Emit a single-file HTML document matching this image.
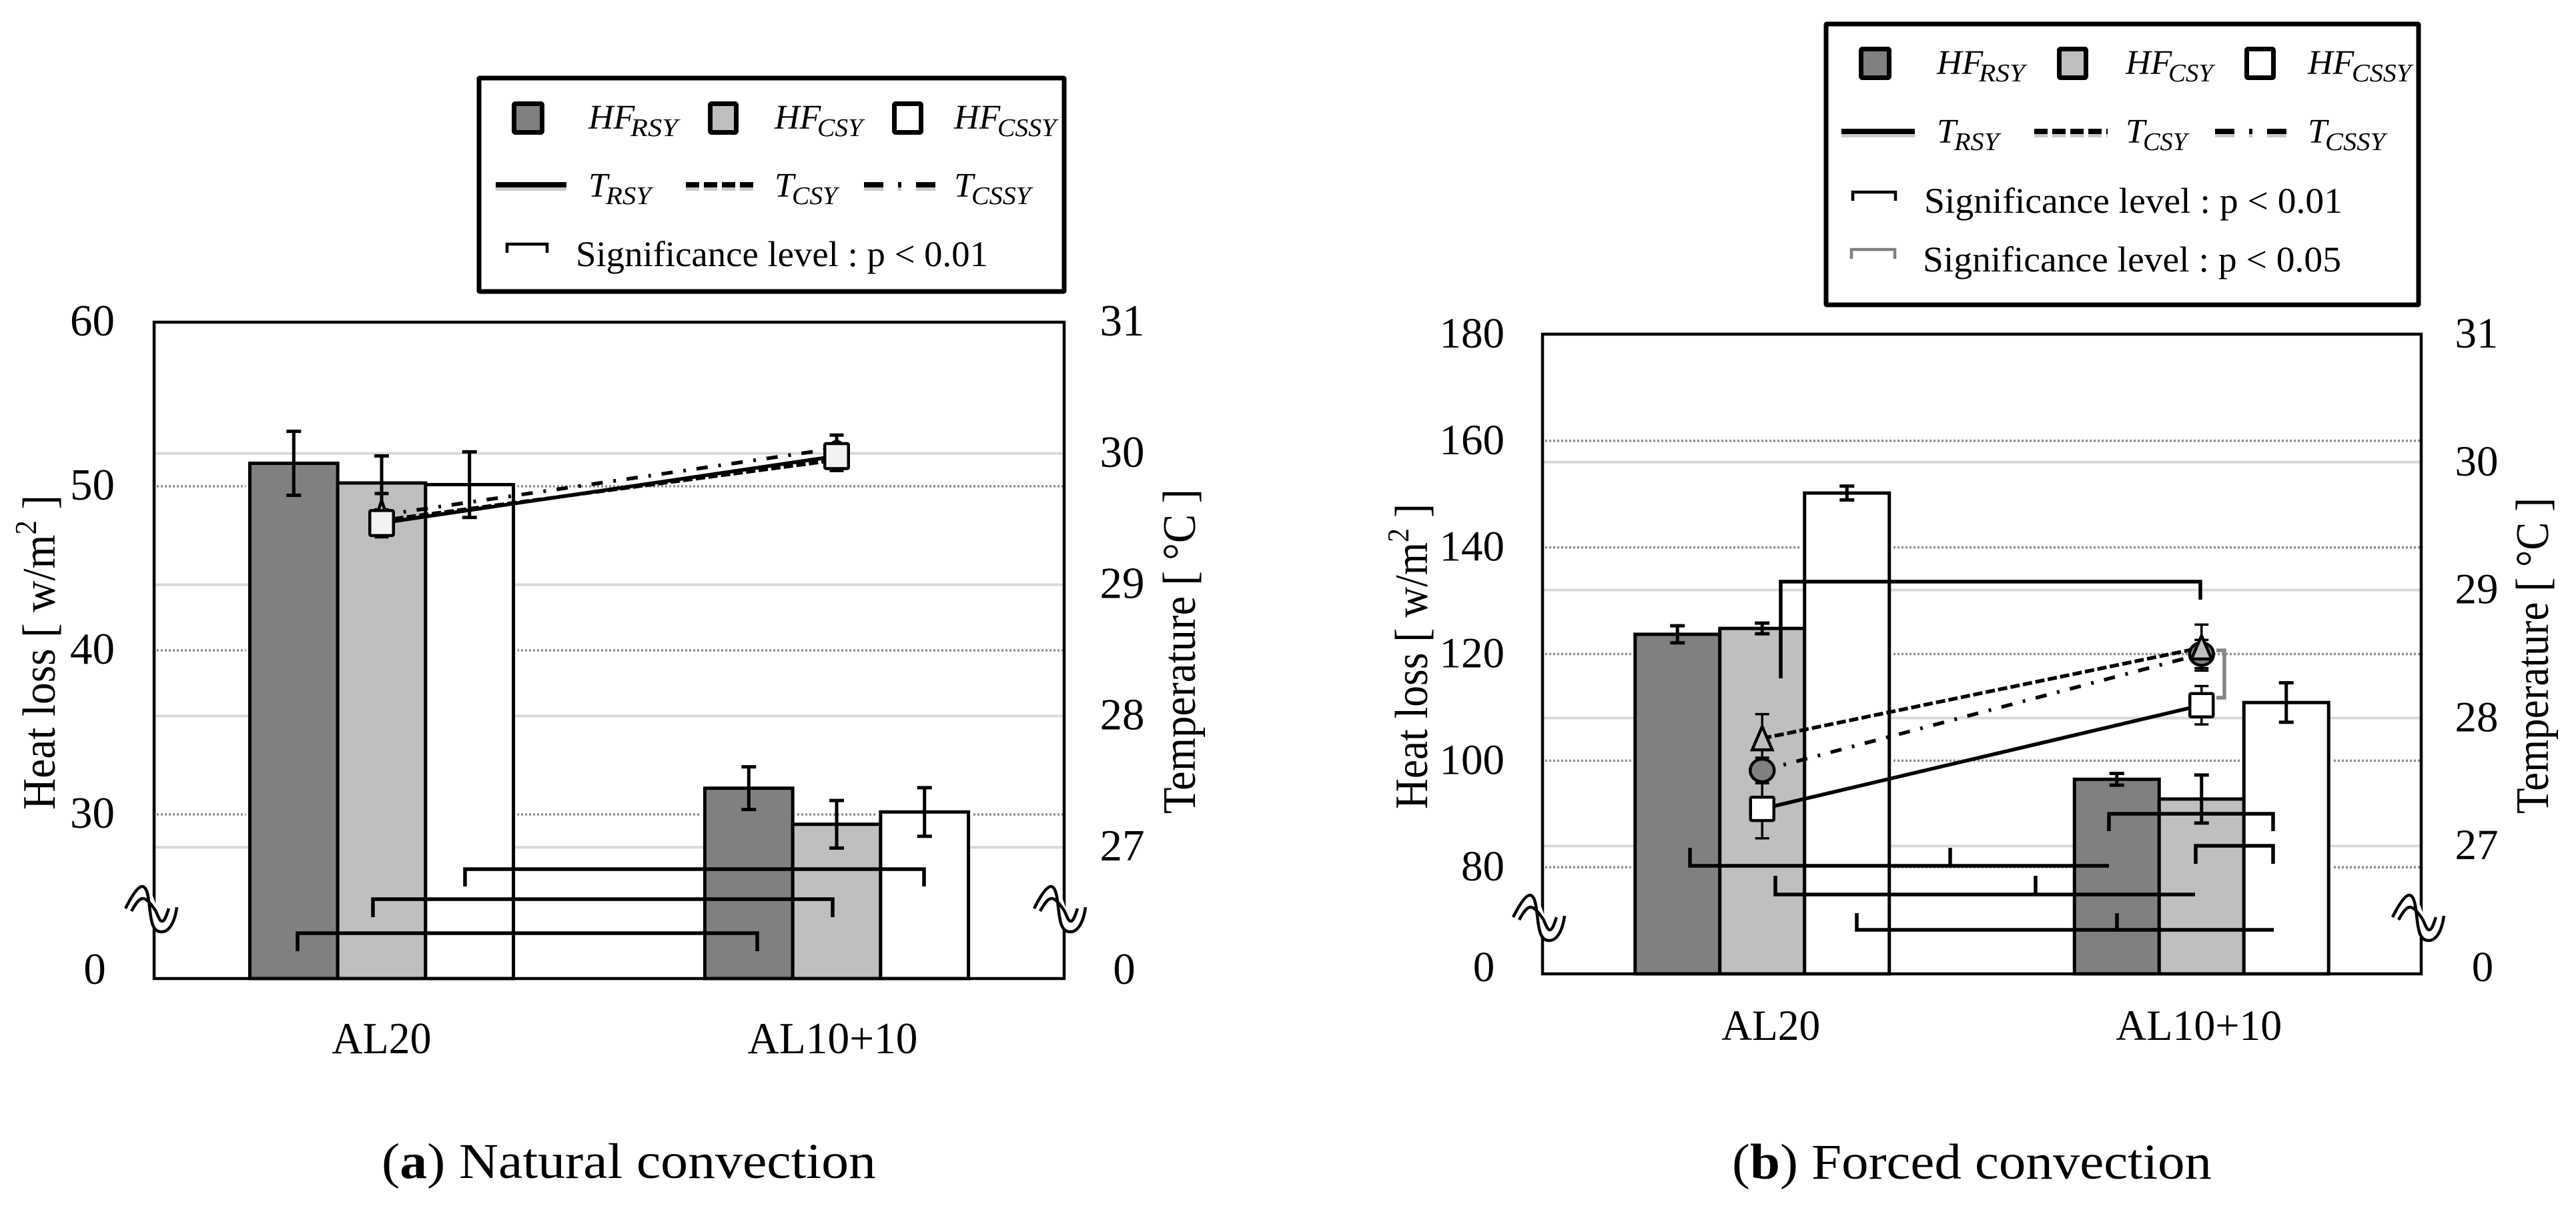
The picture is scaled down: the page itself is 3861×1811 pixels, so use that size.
<!DOCTYPE html>
<html lang="en">
<head>
<meta charset="utf-8">
<title>Heat loss and temperature: natural and forced convection</title>
<style>
html,body{margin:0;padding:0;background:#fff;}
svg{display:block;}
text{font-family:"Liberation Serif",serif;fill:#000;}
.ylab{font-size:70px;}
.cap{font-size:75px;}
.hf{font-size:52px;font-style:italic;}
.sub{font-size:38px;font-style:italic;}
.sig{font-size:54px;}
.br{fill:none;stroke:#000;stroke-width:5.5;stroke-linejoin:miter;}
.wave{fill:none;stroke:#000;stroke-width:4.5;}
.wave-bg{fill:none;stroke:#fff;stroke-width:15;}
</style>
</head>
<body>
<svg xmlns="http://www.w3.org/2000/svg" width="3861" height="1811" viewBox="0 0 3861 1811">
<rect x="0" y="0" width="3861" height="1811" fill="#fff"/>

<!-- Panel (a) -->
<g id="chart-a"></g>
<g>
<path class="br" d="M697 1329V1303H1385V1329"/>
<path class="br" d="M559 1375V1348H1248V1375"/>
<path class="br" d="M446 1426V1399H1135V1426"/>
</g>
<g transform="translate(230 1362)">
<path class="wave-bg" d="M-38 2C-31 -10 -23 -24 -16 -24C-9 -24 -5 -8 -1 4C2 15 5 27 12 27C21 27 26 14 29 -1"/>
<path class="wave" d="M-42 0C-34 -16 -24 -33 -17 -33C-8 -33 -7 -10 -5 5C-3 22 0 35 12 35C24 35 32 20 35 -2"/>
<path class="wave" d="M-33 4C-28 -5 -22 -15 -16 -15C-10 -15 -3 -6 3 3C7 11 9 19 13 19C17 19 20 9 23 0"/>
</g>
<g transform="translate(1592 1362)">
<path class="wave-bg" d="M-38 2C-31 -10 -23 -24 -16 -24C-9 -24 -5 -8 -1 4C2 15 5 27 12 27C21 27 26 14 29 -1"/>
<path class="wave" d="M-42 0C-34 -16 -24 -33 -17 -33C-8 -33 -7 -10 -5 5C-3 22 0 35 12 35C24 35 32 20 35 -2"/>
<path class="wave" d="M-33 4C-28 -5 -22 -15 -16 -15C-10 -15 -3 -6 3 3C7 11 9 19 13 19C17 19 20 9 23 0"/>
</g>
<text class="ylab" transform="translate(82 1214) rotate(-90)" textLength="472" lengthAdjust="spacingAndGlyphs">Heat loss [ w/m<tspan font-size="46" dy="-28">2</tspan><tspan dy="28"> ]</tspan></text>
<text class="ylab" transform="translate(1791 1220) rotate(-90)" textLength="487" lengthAdjust="spacingAndGlyphs">Temperature [ °C ]</text>
<text class="cap" x="572" y="1766" textLength="741" lengthAdjust="spacingAndGlyphs">(<tspan font-weight="bold">a</tspan>) Natural convection</text>

<g>
<rect x="718" y="117" width="877" height="320" fill="#fff" stroke="#000" stroke-width="7" rx="1"/>
<rect x="770.5" y="155.5" width="42" height="43" rx="2" fill="#808080" stroke="#000" stroke-width="7"/>
<text class="hf" x="882" y="193">HF</text><text class="sub" x="945" y="204" textLength="71" lengthAdjust="spacingAndGlyphs">RSY</text>
<rect x="1064.5" y="155.5" width="39" height="43" rx="2" fill="#BFBFBF" stroke="#000" stroke-width="7"/>
<text class="hf" x="1161" y="193">HF</text><text class="sub" x="1225" y="204" textLength="68" lengthAdjust="spacingAndGlyphs">CSY</text>
<rect x="1340.5" y="155.5" width="40" height="43" rx="2" fill="#fff" stroke="#000" stroke-width="7"/>
<text class="hf" x="1430" y="193">HF</text><text class="sub" x="1495" y="204" textLength="88" lengthAdjust="spacingAndGlyphs">CSSY</text>

<line x1="743" y1="283" x2="849" y2="283" stroke="#999" stroke-width="6" opacity=".5"/>
<line x1="1028" y1="283" x2="1136" y2="283" stroke="#999" stroke-width="6" opacity=".5" stroke-dasharray="20 7"/>
<line x1="1295" y1="283" x2="1408" y2="283" stroke="#999" stroke-width="6" opacity=".5" stroke-dasharray="29 22 5 22 29"/>
<line x1="743" y1="277" x2="849" y2="277" stroke="#000" stroke-width="8"/>
<text class="hf" x="882" y="295">T</text><text class="sub" x="908" y="306" textLength="68" lengthAdjust="spacingAndGlyphs">RSY</text>
<line x1="1028" y1="277" x2="1136" y2="277" stroke="#000" stroke-width="8" stroke-dasharray="20 7"/>
<text class="hf" x="1161" y="295">T</text><text class="sub" x="1187" y="306" textLength="68" lengthAdjust="spacingAndGlyphs">CSY</text>
<line x1="1295" y1="277" x2="1408" y2="277" stroke="#000" stroke-width="8" stroke-dasharray="29 22 5 22 29"/>
<text class="hf" x="1430" y="295">T</text><text class="sub" x="1456" y="306" textLength="89" lengthAdjust="spacingAndGlyphs">CSSY</text>

<path d="M760 379V366H820V379" fill="none" stroke="#000" stroke-width="4.5"/>
<text class="sig" x="863" y="399" textLength="618" lengthAdjust="spacingAndGlyphs">Significance level : p &lt; 0.01</text>
</g>

<!-- Panel (b) -->
<g id="chart-b"></g>
<g>
<path class="br" d="M2669 1017V872H3298V899"/>
<path class="br" d="M3161 1246V1220H3407V1246"/>
<path class="br" d="M3291 1295V1268H3407V1295"/>
<path class="br" d="M2533 1271V1298H3161M2923 1271V1298"/>
<path class="br" d="M2661 1313V1341H3290M3051 1313V1341"/>
<path class="br" d="M2783 1369V1394H3408M3173 1369V1394"/>
<path d="M3322 975H3334V1046H3322" fill="none" stroke="#858585" stroke-width="5.5"/>
</g>
<g transform="translate(2310 1375)">
<path class="wave-bg" d="M-38 2C-31 -10 -23 -24 -16 -24C-9 -24 -5 -8 -1 4C2 15 5 27 12 27C21 27 26 14 29 -1"/>
<path class="wave" d="M-42 0C-34 -16 -24 -33 -17 -33C-8 -33 -7 -10 -5 5C-3 22 0 35 12 35C24 35 32 20 35 -2"/>
<path class="wave" d="M-33 4C-28 -5 -22 -15 -16 -15C-10 -15 -3 -6 3 3C7 11 9 19 13 19C17 19 20 9 23 0"/>
</g>
<g transform="translate(3628 1375)">
<path class="wave-bg" d="M-38 2C-31 -10 -23 -24 -16 -24C-9 -24 -5 -8 -1 4C2 15 5 27 12 27C21 27 26 14 29 -1"/>
<path class="wave" d="M-42 0C-34 -16 -24 -33 -17 -33C-8 -33 -7 -10 -5 5C-3 22 0 35 12 35C24 35 32 20 35 -2"/>
<path class="wave" d="M-33 4C-28 -5 -22 -15 -16 -15C-10 -15 -3 -6 3 3C7 11 9 19 13 19C17 19 20 9 23 0"/>
</g>
<text class="ylab" transform="translate(2139 1213) rotate(-90)" textLength="458" lengthAdjust="spacingAndGlyphs">Heat loss [ w/m<tspan font-size="46" dy="-28">2</tspan><tspan dy="28"> ]</tspan></text>
<text class="ylab" transform="translate(3819 1220) rotate(-90)" textLength="474" lengthAdjust="spacingAndGlyphs">Temperature [ °C ]</text>
<text class="cap" x="2596" y="1767" textLength="719" lengthAdjust="spacingAndGlyphs">(<tspan font-weight="bold">b</tspan>) Forced convection</text>

<g>
<rect x="2737" y="36" width="888" height="421" fill="#fff" stroke="#000" stroke-width="7" rx="1"/>
<rect x="2789.5" y="73.5" width="42" height="43" rx="2" fill="#808080" stroke="#000" stroke-width="7"/>
<text class="hf" x="2903" y="111">HF</text><text class="sub" x="2966" y="122" textLength="69" lengthAdjust="spacingAndGlyphs">RSY</text>
<rect x="3086.5" y="73.5" width="40" height="43" rx="2" fill="#BFBFBF" stroke="#000" stroke-width="7"/>
<text class="hf" x="3186" y="111">HF</text><text class="sub" x="3250" y="122" textLength="67" lengthAdjust="spacingAndGlyphs">CSY</text>
<rect x="3367.5" y="73.5" width="40" height="43" rx="2" fill="#fff" stroke="#000" stroke-width="7"/>
<text class="hf" x="3459" y="111">HF</text><text class="sub" x="3525" y="122" textLength="89" lengthAdjust="spacingAndGlyphs">CSSY</text>

<line x1="2760" y1="203" x2="2870" y2="203" stroke="#999" stroke-width="6" opacity=".5"/>
<line x1="3049" y1="203" x2="3159" y2="203" stroke="#999" stroke-width="6" opacity=".5" stroke-dasharray="20 7"/>
<line x1="3320" y1="203" x2="3437" y2="203" stroke="#999" stroke-width="6" opacity=".5" stroke-dasharray="29 22 5 22 29"/>
<line x1="2760" y1="197" x2="2870" y2="197" stroke="#000" stroke-width="8"/>
<text class="hf" x="2903" y="214">T</text><text class="sub" x="2929" y="225" textLength="67" lengthAdjust="spacingAndGlyphs">RSY</text>
<line x1="3049" y1="197" x2="3159" y2="197" stroke="#000" stroke-width="8" stroke-dasharray="20 7"/>
<text class="hf" x="3186" y="214">T</text><text class="sub" x="3212" y="225" textLength="66" lengthAdjust="spacingAndGlyphs">CSY</text>
<line x1="3320" y1="197" x2="3437" y2="197" stroke="#000" stroke-width="8" stroke-dasharray="29 22 5 22 29"/>
<text class="hf" x="3459" y="214">T</text><text class="sub" x="3485" y="225" textLength="90" lengthAdjust="spacingAndGlyphs">CSSY</text>

<path d="M2777 301V288H2841V301" fill="none" stroke="#000" stroke-width="4.5"/>
<text class="sig" x="2884" y="319" textLength="627" lengthAdjust="spacingAndGlyphs">Significance level : p &lt; 0.01</text>
<path d="M2775 388V374H2840V388" fill="none" stroke="#808080" stroke-width="4.5"/>
<text class="sig" x="2882" y="407" textLength="627" lengthAdjust="spacingAndGlyphs">Significance level : p &lt; 0.05</text>
</g>
</svg>

<script>
// Shared categories and series labels
const categories = ['AL20', 'AL10+10'];
const barSeriesNames = ['hf-rsy', 'hf-csy', 'hf-cssy'];
const lineSeriesNames = ['t-rsy', 't-csy', 't-cssy'];
const breakLabel = '0';

// Panel (a) natural convection: heat loss
const naturalHfRsy = [51.4, 31.6];
const naturalHfCsy = [50.2, 29.4];
const naturalHfCssy = [50.1, 30.15];
const naturalHfRsyErr = [1.95, 1.3];
const naturalHfCsyErr = [1.65, 1.45];
const naturalHfCssyErr = [2.0, 1.48];
// Panel (a) temperature
const naturalTRsy = [29.47, 29.98];
const naturalTCsy = [29.49, 29.95];
const naturalTCssy = [29.53, 30.04];
const naturalTRsyErr = [0.08, 0.08];
const naturalTCsyErr = [0.08, 0.08];
const naturalTCssyErr = [0.165, 0.1];
// Panel (a) axes
const naturalLeftTicks = [60, 50, 40, 30];
const naturalRightTicks = [31, 30, 29, 28, 27];

// Panel (b) forced convection: heat loss
const forcedHfRsy = [123.7, 96.5];
const forcedHfCsy = [124.8, 92.8];
const forcedHfCssy = [150.2, 110.9];
const forcedHfRsyErr = [1.6, 1.1];
const forcedHfCsyErr = [1.0, 4.5];
const forcedHfCssyErr = [1.3, 3.7];
// Panel (b) temperature
const forcedTRsy = [27.29, 28.1];
const forcedTCsy = [27.84, 28.55];
const forcedTCssy = [27.59, 28.5];
const forcedTRsyErr = [0.23, 0.15];
const forcedTCsyErr = [0.19, 0.18];
const forcedTCssyErr = [0.1, 0.11];
// Panel (b) axes
const forcedLeftTicks = [180, 160, 140, 120, 100, 80];
const forcedRightTicks = [31, 30, 29, 28, 27];

const NS = 'http://www.w3.org/2000/svg';
const barFills = ['#808080', '#BFBFBF', '#FFFFFF'];
const dashes = ['', '14 5', '17 16 4 16'];

function mk(parent, tag, attrs, txt) {
  const e = document.createElementNS(NS, tag);
  for (const k in attrs) e.setAttribute(k, attrs[k]);
  if (txt !== undefined) e.textContent = txt;
  parent.appendChild(e);
  return e;
}

function drawChart(root, cfg, bars, barErrs, temps, tempErrs, leftTicks, rightTicks) {
  const yL = v => cfg.bottom - (v - cfg.leftMin) * (cfg.bottom - cfg.top) / (cfg.leftMax - cfg.leftMin);
  const yR = v => cfg.bottom - (v - cfg.rightMin) * (cfg.bottom - cfg.top) / (cfg.rightMax - cfg.rightMin);
  const xCat = i => cfg.left + (i + 0.5) * (cfg.right - cfg.left) / categories.length;
  const xBar = (i, k) => xCat(i) + (k - 1.5) * cfg.barW;

  // dotted gridlines for left axis
  leftTicks.slice(1).forEach(function (t) {
    const g = mk(root, 'line', {x1: cfg.left + 4, x2: cfg.right, y1: yL(t), y2: yL(t), stroke: '#8c8c8c', 'stroke-width': 3.5, 'stroke-dasharray': '3 3'});
    
    
  });
  // white halo around the bars, interrupting the dotted lines
  bars.forEach(function (vals, k) {
    vals.forEach(function (v, i) {
      mk(root, 'rect', {x: xBar(i, k) - 6, y: yL(v), width: cfg.barW + 12, height: cfg.bottom - yL(v), fill: '#fff'});
    });
  });
  // light gridlines for right axis
  rightTicks.slice(1).forEach(function (t) {
    const g = mk(root, 'line', {x1: cfg.left, x2: cfg.right, y1: yR(t), y2: yR(t), stroke: '#d9d9d9', 'stroke-width': 4});
    
    
  });
  // bars
  bars.forEach(function (vals, k) {
    vals.forEach(function (v, i) {
      const b = mk(root, 'rect', {x: xBar(i, k), y: yL(v), width: cfg.barW, height: cfg.bottom - yL(v), fill: barFills[k], stroke: '#000', 'stroke-width': 5});
      
      
    });
  });
  // frame
  const fr = mk(root, 'rect', {x: cfg.left, y: cfg.top, width: cfg.right - cfg.left, height: cfg.bottom - cfg.top, fill: 'none', stroke: '#000', 'stroke-width': 4.5});
  
  
  // bar error bars
  bars.forEach(function (vals, k) {
    vals.forEach(function (v, i) {
      const cx = xBar(i, k) + cfg.barW / 2, hi = yL(v + barErrs[k][i]), lo = yL(v - barErrs[k][i]);
      const e = mk(root, 'path', {d: 'M' + (cx - 11) + ' ' + hi + 'H' + (cx + 11) + 'M' + cx + ' ' + hi + 'V' + lo + 'M' + (cx - 11) + ' ' + lo + 'H' + (cx + 11), fill: 'none', stroke: '#000', 'stroke-width': 5});
      
      
    });
  });
  // temperature lines
  temps.forEach(function (vals, s) {
    const l = mk(root, 'line', {x1: xCat(0), y1: yR(vals[0]), x2: xCat(1), y2: yR(vals[1]), stroke: '#000', 'stroke-width': 5.5, 'stroke-dasharray': dashes[s]});
    
    
  });
  // temperature error bars
  temps.forEach(function (vals, s) {
    vals.forEach(function (v, i) {
      const cx = xCat(i), hi = yR(v + tempErrs[s][i]), lo = yR(v - tempErrs[s][i]);
      const e = mk(root, 'path', {d: 'M' + (cx - 10.5) + ' ' + hi + 'H' + (cx + 10.5) + 'M' + cx + ' ' + hi + 'V' + lo + 'M' + (cx - 10.5) + ' ' + lo + 'H' + (cx + 10.5), fill: 'none', stroke: '#000', 'stroke-width': cfg.tErrW});
      
      
    });
  });
  // markers
  cfg.markerOrder.forEach(function (s) {
    temps[s].forEach(function (v, i) {
      const cx = xCat(i), cy = yR(v);
      let m;
      if (s === 0) {
        m = mk(root, 'rect', {x: cx - cfg.sqW / 2, y: cy - cfg.sqH / 2, width: cfg.sqW, height: cfg.sqH, rx: 2, fill: cfg.sqFill, stroke: '#000', 'stroke-width': 4.5});
      } else if (s === 1) {
        m = mk(root, 'path', {d: 'M' + cx + ' ' + (cy - cfg.triH) + 'L' + (cx + cfg.triW) + ' ' + (cy + cfg.triB) + 'H' + (cx - cfg.triW) + 'Z', fill: '#BFBFBF', stroke: '#000', 'stroke-width': 4.5});
      } else {
        m = mk(root, 'ellipse', {cx: cx, cy: cy, rx: cfg.circRx, ry: cfg.circRy, fill: '#808080', stroke: '#000', 'stroke-width': 4.5});
      }
      
      
    });
  });
  // tick labels
  leftTicks.forEach(function (t) {
    const tx = mk(root, 'text', {x: cfg.leftLabelX, y: yL(t) + 20, 'text-anchor': 'end', 'font-size': cfg.tickSize}, String(t));
    
    
  });
  rightTicks.forEach(function (t) {
    const tx = mk(root, 'text', {x: cfg.rightLabelX, y: yR(t) + 20, 'text-anchor': 'middle', 'font-size': cfg.tickSize}, String(t));
    
    
  });
  const z1 = mk(root, 'text', {x: cfg.leftZeroX, y: cfg.bottom + cfg.zeroDy, 'text-anchor': 'middle', 'font-size': cfg.tickSize}, breakLabel);
  
  
  const z2 = mk(root, 'text', {x: cfg.rightZeroX, y: cfg.bottom + cfg.zeroDy, 'text-anchor': 'middle', 'font-size': cfg.tickSize}, breakLabel);
  
  
  // category labels
  categories.forEach(function (c, i) {
    const tx = mk(root, 'text', {x: xCat(i) + cfg.catShift[i] - cfg.catLen[i] / 2, y: cfg.catY, 'font-size': cfg.tickSize, textLength: cfg.catLen[i], lengthAdjust: 'spacingAndGlyphs'}, c);
    
    
  });
}

drawChart(document.getElementById('chart-a'), {
  left: 231, right: 1595, top: 483, bottom: 1467, barW: 131.7, tickSize: 67, tErrW: 5,
  leftMin: 20, leftMax: 60, rightMin: 26, rightMax: 31,
  leftLabelX: 172, rightLabelX: 1682, leftZeroX: 142, rightZeroX: 1685, zeroDy: 8,
  catY: 1579, catShift: [0, -6], catLen: [149, 255],
  markerOrder: [2, 1, 0], sqW: 35.5, sqH: 37.5, sqFill: '#f2f2f2',
  triH: 30, triB: 12, triW: 14, circRx: 10, circRy: 10
}, [naturalHfRsy, naturalHfCsy, naturalHfCssy], [naturalHfRsyErr, naturalHfCsyErr, naturalHfCssyErr],
   [naturalTRsy, naturalTCsy, naturalTCssy], [naturalTRsyErr, naturalTCsyErr, naturalTCssyErr],
   naturalLeftTicks, naturalRightTicks);

drawChart(document.getElementById('chart-b'), {
  left: 2312, right: 3629, top: 501, bottom: 1460, barW: 127, tickSize: 65, tErrW: 3.5,
  leftMin: 60, leftMax: 180, rightMin: 26, rightMax: 31,
  leftLabelX: 2255, rightLabelX: 3712, leftZeroX: 2224, rightZeroX: 3721, zeroDy: 11,
  catY: 1559, catShift: [13, -4], catLen: [148, 249],
  markerOrder: [0, 2, 1], sqW: 35, sqH: 35, sqFill: '#fff',
  triH: 18, triB: 17, triW: 15, circRx: 18, circRy: 17
}, [forcedHfRsy, forcedHfCsy, forcedHfCssy], [forcedHfRsyErr, forcedHfCsyErr, forcedHfCssyErr],
   [forcedTRsy, forcedTCsy, forcedTCssy], [forcedTRsyErr, forcedTCsyErr, forcedTCssyErr],
   forcedLeftTicks, forcedRightTicks);
</script>
</body>
</html>
